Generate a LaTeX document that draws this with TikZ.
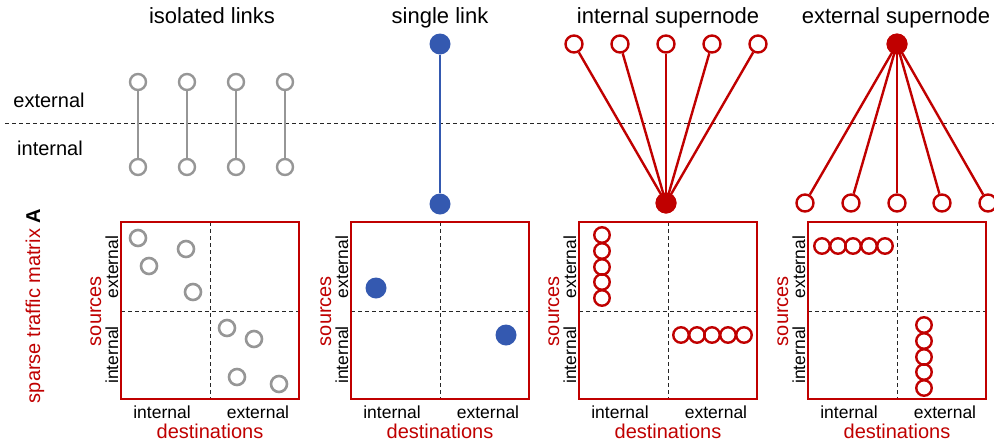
\documentclass[tikz,border=0pt]{standalone}
\usepackage{fontspec}
\setmainfont{Liberation Sans}
\definecolor{myred}{RGB}{192,0,0}
\definecolor{mygray}{RGB}{150,150,150}
\definecolor{myblue}{RGB}{52,89,176}
\begin{document}
\begin{tikzpicture}[x=1pt,y=-1pt,
  title/.style={font=\fontsize{22}{24}\selectfont, anchor=base, inner sep=0},
  side/.style={font=\fontsize{20}{22}\selectfont, anchor=base, inner sep=0},
  axlab/.style={font=\fontsize{17.5}{20}\selectfont, anchor=base, inner sep=0},
  redlab/.style={font=\fontsize{20}{22}\selectfont, text=myred, anchor=base, inner sep=0},
  grayopen/.style={circle, draw=mygray, line width=2.4pt, fill=white, minimum size=16pt, inner sep=0},
  redopen/.style={circle, draw=myred, line width=2.4pt, fill=white, minimum size=17pt, inner sep=0},
  redfill/.style={circle, fill=myred, minimum size=21pt, inner sep=0},
  bluefill/.style={circle, fill=myblue, minimum size=21pt, inner sep=0},
  mgray/.style={circle, draw=mygray, line width=2.6pt, fill=white, minimum size=16pt, inner sep=0},
  mred/.style={circle, draw=myred, line width=2.4pt, minimum size=15.5pt, inner sep=0},
  grayline/.style={draw=mygray, line width=2.4pt},
  redline/.style={draw=myred, line width=2.4pt},
  blueline/.style={draw=myblue, line width=2.8pt},
  divline/.style={draw=black!85, line width=0.9pt, dash pattern=on 4pt off 3pt},
  boxline/.style={draw=myred, line width=2.8pt}
]
\useasboundingbox (0,0) rectangle (994,445);

% separating line
\coordinate (dl) at (5,123);
\coordinate (dr) at (994,123);
\draw[divline] (dl) -- (dr);

% titles
\node[title] (t1) at (212,23) {isolated links};
\node[title] (t2) at (440,23) {single link};
\node[title] (t3) at (668,23) {internal supernode};
\node[title] (t4) at (896,23) {external supernode};

\node[side] (sext) at (49,107) {external};
\node[side] (sint) at (50,155) {internal};

% isolated links
\foreach \i/\x in {1/138,2/187,3/236,4/285}{
  \node[grayopen] (it\i) at (\x,82) {};
  \node[grayopen] (ib\i) at (\x,167) {};
  \draw[grayline] (it\i) -- (ib\i);
}

% single link
\node[bluefill] (st) at (440,44) {};
\node[bluefill] (sb) at (440,204) {};
\draw[blueline] (st) -- (sb);

% internal supernode
\node[redfill] (ic) at (666,203) {};
\foreach \i/\x in {1/574,2/620,3/666,4/712,5/758}{
  \node[redopen] (in\i) at (\x,44) {};
  \draw[redline] (in\i) -- (ic.center);
}
\node[redfill] (ic2) at (666,203) {};

% external supernode
\node[redfill] (ec) at (897,44) {};
\foreach \i/\x in {1/805,2/851,3/897,4/942,5/988}{
  \node[redopen] (en\i) at (\x,203) {};
  \draw[redline] (ec.center) -- (en\i);
}
\node[redfill] (ec2) at (897,44) {};

% matrices
\foreach \k/\L in {1/121,2/351,3/579,4/808}{
  \pgfmathsetmacro{\R}{\L+178}
  \pgfmathsetmacro{\M}{\L+89}
  \coordinate (m\k tl) at (\L,222);
  \coordinate (m\k br) at (\R,399);
  \coordinate (m\k vt) at (\M,222);
  \coordinate (m\k vb) at (\M,399);
  \coordinate (m\k hl) at (\L,311);
  \coordinate (m\k hr) at (\R,311);
  \draw[divline] (m\k vt) -- (m\k vb);
  \draw[divline] (m\k hl) -- (m\k hr);
  \draw[boxline] (m\k tl) rectangle (m\k br);
  \node[axlab] (m\k di) at (\L+41,418) {internal};
  \node[axlab] (m\k de) at (\M+48,418) {external};
  \node[redlab] (m\k dd) at (\M,438) {destinations};
  \node[axlab, rotate=90] (m\k se) at (\L-3,267) {external};
  \node[axlab, rotate=90] (m\k si) at (\L-3,355) {internal};
  \node[redlab, rotate=90] (m\k ss) at (\L-20,311) {sources};
}
\node[redlab, rotate=90] (spm) at (40,306) {sparse traffic matrix {\color{black}$\mathbf{A}$}};

% matrix 1 entries
\foreach \i/\x/\y in {1/138/238,2/186/249,3/149/266,4/193/292,5/227/328,6/254/339,7/237/377,8/279/384}{
  \node[mgray] (g\i) at (\x,\y) {};
}
% matrix 2 entries
\node[bluefill] (b1) at (376,288) {};
\node[bluefill] (b2) at (506,335) {};
% matrix 3 entries
\foreach \i/\y in {1/235,2/251,3/267,4/282,5/298}{
  \node[mred] (c\i) at (602,\y) {};
}
\foreach \i/\x in {1/681,2/697,3/712,4/728,5/744}{
  \node[mred] (r\i) at (\x,335) {};
}
% matrix 4 entries
\foreach \i/\x in {1/822,2/838,3/853,4/869,5/885}{
  \node[mred] (er\i) at (\x,246) {};
}
\foreach \i/\y in {1/325,2/341,3/357,4/372,5/388}{
  \node[mred] (ecl\i) at (924,\y) {};
}
\end{tikzpicture}
\end{document}
